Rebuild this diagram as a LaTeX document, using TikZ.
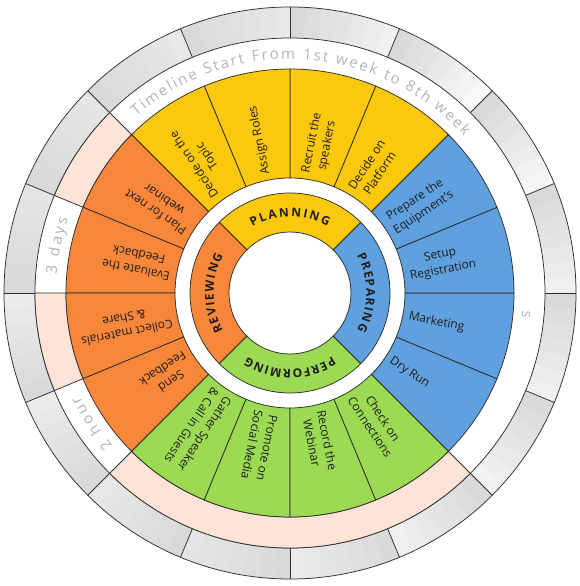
\documentclass[tikz,border=0pt]{standalone}
\usepackage{fontspec}
\setmainfont{Open Sans}
\usetikzlibrary{decorations.text}

\definecolor{planY}{HTML}{FBC80C}
\definecolor{prepB}{HTML}{5FA0DE}
\definecolor{perfG}{HTML}{9CDA54}
\definecolor{reviO}{HTML}{F98739}
\definecolor{peach}{HTML}{FFE3D6}
\definecolor{rim}{HTML}{2E2E2E}
\definecolor{tlgray}{HTML}{B4B4B4}
\definecolor{ink}{HTML}{1E1E1E}

\tikzset{
  rimline/.style={draw=rim, line width=0.75pt},
  segtext/.style={font=\fontsize{12}{15.5}\selectfont, text=ink, align=center,
                  anchor=west, inner sep=0pt},
  tltext/.style={decorate, decoration={text along path,
                 text align={fit to path},
                 text={|\fontsize{15}{18}\selectfont\color{tlgray}|#1}}},
  tlsingle/.style={decorate, decoration={text along path,
                 text align=center,
                 text={|\fontsize{15}{18}\selectfont\color{tlgray}|#1}}},
  hubtext/.style={decorate, decoration={text along path,
                 text align={fit to path},
                 text={|\fontsize{12}{14}\selectfont\bfseries\color{ink}|#1}}},
}

\begin{document}
\begin{tikzpicture}[x=1pt,y=1pt]
\useasboundingbox (-290,-293) rectangle (290,293);

% day cells of the outer calendar ring, darkening towards each week's start
\foreach \wk/\lite in {0/5.9, 1/3.5, 2/2.7, 3/5.9, 4/9, 5/9, 6/10, 7/10,
                       8/8, 9/8, 10/9, 11/10, 12/8, 13/6, 14/5, 15/6}{
  \foreach \j in {0,...,6}{
    \pgfmathsetmacro\angA{22.5*\wk+22.5*\j/7}
    \pgfmathsetmacro\angB{22.5*\wk+22.5*(\j+1)/7+0.05}
    \pgfmathsetmacro\grayv{\lite+(14.9-\lite)*\j/6}
    \fill[black!\grayv] (\angA:255pt) arc[start angle=\angA, end angle=\angB, radius=255pt]
      -- (\angB:286pt) arc[start angle=\angB, end angle=\angA, radius=286pt] -- cycle;
  }
}
\draw[rimline] (0,0) circle[radius=286pt];
\draw[rimline] (0,0) circle[radius=255pt];
\foreach \k in {0,...,15}
  \draw[rimline] (22.5*\k:255pt) -- (22.5*\k:286pt);

% highlighted spans of the timeline band
\foreach \a/\b in {135/157.5, 180/202.5, 225/315}
  \filldraw[fill=peach, rimline] (\a:224pt) arc[start angle=\a, end angle=\b, radius=224pt]
    -- (\b:255pt) arc[start angle=\b, end angle=\a, radius=255pt] -- cycle;

% task ring
\foreach \c [count=\i from 0] in {prepB,prepB,prepB,prepB,planY,planY,planY,planY,
                                  reviO,reviO,reviO,reviO,perfG,perfG,perfG,perfG}{
  \pgfmathsetmacro\angA{-45+22.5*\i}
  \pgfmathsetmacro\angB{\angA+22.5}
  \filldraw[fill=\c, rimline] (\angA:115pt) arc[start angle=\angA, end angle=\angB, radius=115pt]
    -- (\angB:224pt) arc[start angle=\angB, end angle=\angA, radius=224pt] -- cycle;
}
\foreach \t [count=\i from 0] in {Dry Run, Marketing, {Setup\\Registration},
    {Prepare the\\Equipment's}, {Decide on\\Platform}, {Recruit the\\speakers},
    Assign Roles, {Decide on the\\Topic}, {Plan for next\\webinar},
    {Evaluate the\\Feedback}, {Collect materials\\\& Share}, {Send\\Feedback},
    {Gather Speaker\\\& Call in Guests}, {Promote on\\Social Media},
    {Record the\\Webinar}, {Check on\\Connections}}{
  \pgfmathsetmacro\angM{-33.75+22.5*\i}
  \node[segtext, rotate=\angM] (task\i) at (\angM:121pt) {\t};
}

% phase hub
\foreach \a/\c in {-45/prepB, 45/planY, 135/reviO, 225/perfG}
  \filldraw[fill=\c, rimline] (\a:61pt) arc[start angle=\a, end angle=\a+90, radius=61pt]
    -- ({\a+90}:100pt) arc[start angle=\a+90, end angle=\a, radius=100pt] -- cycle;

\path[hubtext=PLANNING] (119.5:76.5pt) arc[start angle=119.5, end angle=60.5, radius=76.5pt];
\path[hubtext=PREPARING] (29:76.5pt) arc[start angle=29, end angle=-29, radius=76.5pt];
\path[hubtext=PERFORMING] (-56.3:76.5pt) arc[start angle=-56.3, end angle=-123.7, radius=76.5pt];
\path[hubtext=REVIEWING] (209.3:76.5pt) arc[start angle=209.3, end angle=150.7, radius=76.5pt];

% timeline captions
\path[tltext={Timeline Start From 1st week to 8th week}]
  (131:234pt) arc[start angle=131, end angle=42, radius=234pt];
\path[tltext={3 days}] (175.5:234pt) arc[start angle=175.5, end angle=161.5, radius=234pt];
\path[tltext={2 hour}] (220.7:234pt) arc[start angle=220.7, end angle=206, radius=234pt];
\path[tlsingle={s}] (0:233pt) arc[start angle=0, end angle=-10.6, radius=233pt];
\end{tikzpicture}
\end{document}
